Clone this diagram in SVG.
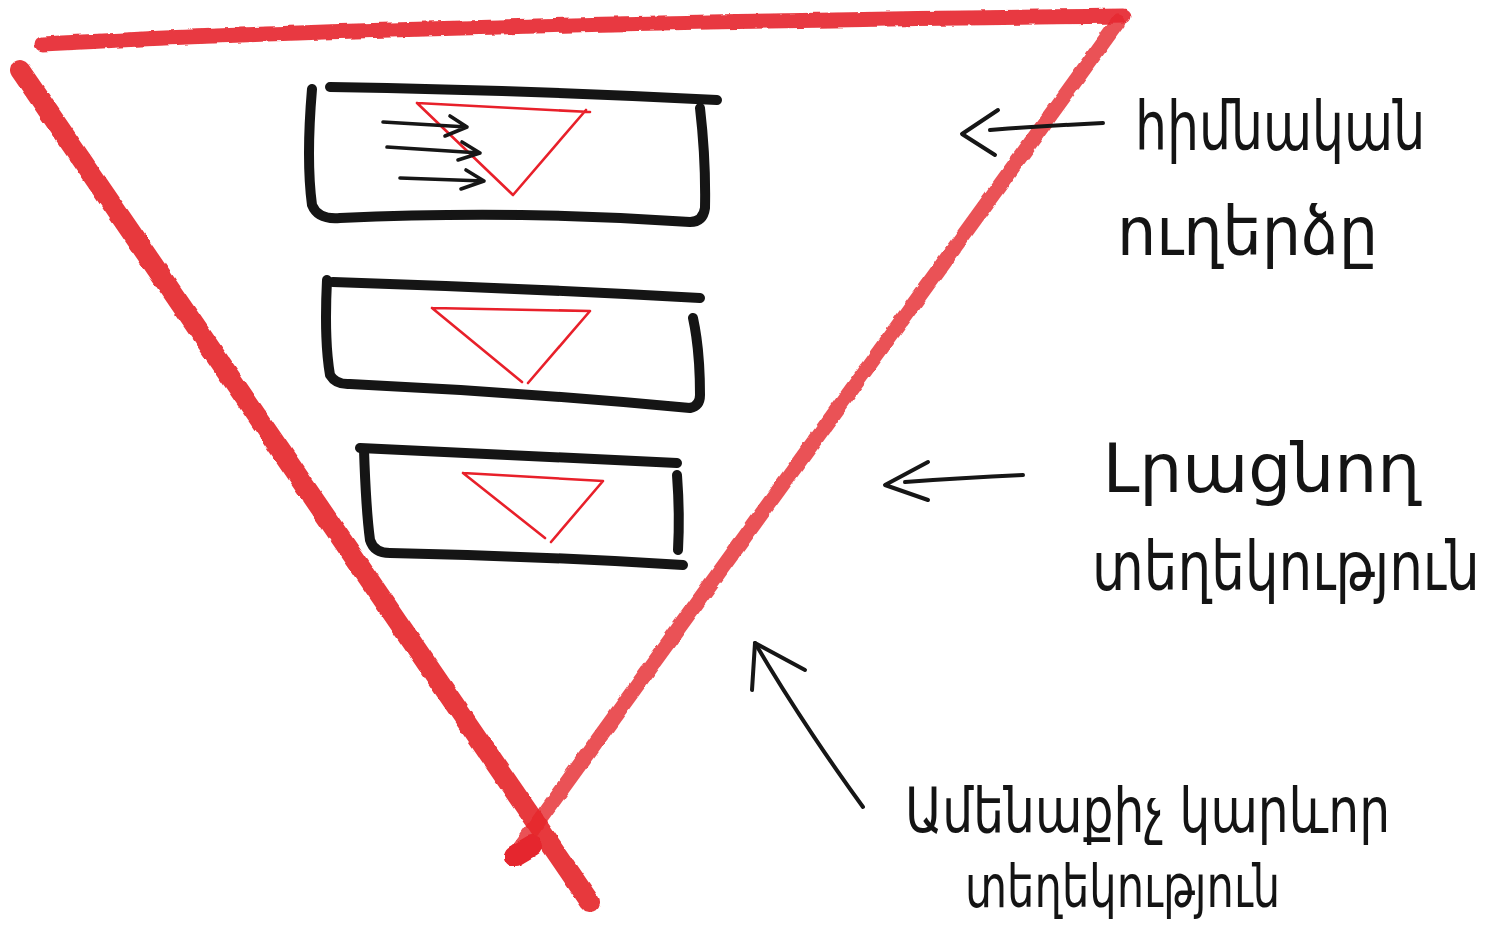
<svg xmlns="http://www.w3.org/2000/svg" width="1495" height="933" viewBox="0 0 1495 933">
<defs>
<filter id="rough" x="-5%" y="-5%" width="110%" height="110%">
<feTurbulence type="fractalNoise" baseFrequency="0.08" numOctaves="2" seed="3" result="n"/>
<feDisplacementMap in="SourceGraphic" in2="n" scale="4" xChannelSelector="R" yChannelSelector="G"/>
</filter>
<style>
.marker{fill:none;stroke:#e5262d;stroke-linecap:round;stroke-linejoin:round}
.box{fill:none;stroke:#151515;stroke-width:10;stroke-linecap:round;stroke-linejoin:round}
.tri{fill:none;stroke:#e8202a;stroke-width:2.6;stroke-linecap:round;stroke-linejoin:round}
.pen{fill:none;stroke:#161616;stroke-width:4;stroke-linecap:round;stroke-linejoin:round}
.small{fill:none;stroke:#161616;stroke-width:3.6;stroke-linecap:round;stroke-linejoin:round}
.hand{font-family:"DejaVu Sans","Noto Sans",sans-serif;fill:#141414;font-weight:normal}
</style>
</defs>
<rect width="1495" height="933" fill="#ffffff"/>

<g id="pyramid" filter="url(#rough)">
<path class="marker" d="M42,44 Q400,24 1123,16" stroke-width="15" opacity="0.9"/>
<path class="marker" d="M1118,22 L512,858" stroke-width="15" opacity="0.8"/>
<path class="marker" d="M20,70 L590,902" stroke-width="20" opacity="0.92"/>
<path class="marker" d="M515,856 L532,846" stroke-width="22"/>
</g>

<g id="box1">
<path class="box" d="M330,87 Q520,90 717,100"/>
<path class="box" d="M312,89 Q306,160 312,205 Q318,220 340,218 Q520,210 690,222 Q703,222 705,208 Q706,160 700,108"/>
<path class="tri" d="M417,103 L590,112 M586,110 L513,195 L417,103"/>
<path class="small" d="M383,122 L467,127 M450,116 L467,127 L445,136"/>
<path class="small" d="M387,147 L480,153 M462,142 L480,153 L458,160"/>
<path class="small" d="M400,178 L484,181 M466,170 L484,181 L461,189"/>
</g>

<g id="box2">
<path class="box" d="M333,282 Q520,288 700,298"/>
<path class="box" d="M327,280 Q324,340 330,375 Q336,385 350,384 Q520,392 690,408 Q700,406 700,395 Q700,350 693,318"/>
<path class="tri" d="M432,308 L590,311 L528,383 M522,382 L432,308"/>
</g>

<g id="box3">
<path class="box" d="M360,448 Q520,455 677,463"/>
<path class="box" d="M364,450 Q366,510 370,540 Q374,553 390,553 Q540,556 683,565"/>
<path class="box" d="M677,475 Q680,515 678,550"/>
<path class="tri" d="M463,473 L603,481 L551,542 M545,538 L463,473"/>
</g>

<g id="connectors">
<path class="pen" d="M1103,123 Q1040,126 990,130"/>
<path class="pen" d="M998,110 L962,134 L995,155"/>
<path class="pen" d="M1023,475 Q960,478 905,482"/>
<path class="pen" d="M928,462 L885,485 L928,500"/>
<path class="pen" d="M863,807 Q800,720 755,643"/>
<path class="pen" d="M752,690 L755,643 L805,670"/>
</g>

<g id="label1">
<text class="hand" font-size="68" transform="translate(1135,150) scale(0.75,1)" x="0" y="0" textLength="387" lengthAdjust="spacingAndGlyphs">հիմնական</text>
<text class="hand" font-size="68" transform="translate(1117,255) scale(0.85,1)" x="0" y="0" textLength="307" lengthAdjust="spacingAndGlyphs">ուղերձը</text>
</g>
<g id="label2">
<text class="hand" font-size="68" transform="translate(1103,492) scale(0.95,1)" x="0" y="0" textLength="334" lengthAdjust="spacingAndGlyphs">Լրացնող</text>
<text class="hand" font-size="68" transform="translate(1092,590) scale(0.78,1)" x="0" y="0" textLength="497" lengthAdjust="spacingAndGlyphs">տեղեկություն</text>
</g>
<g id="label3">
<text class="hand" font-size="62" transform="translate(905,832) scale(0.79,1)" x="0" y="0" textLength="614" lengthAdjust="spacingAndGlyphs">Ամենաքիչ կարևոր</text>
<text class="hand" font-size="58" transform="translate(965,907) scale(0.745,1)" x="0" y="0" textLength="423" lengthAdjust="spacingAndGlyphs">տեղեկություն</text>
</g>
</svg>
